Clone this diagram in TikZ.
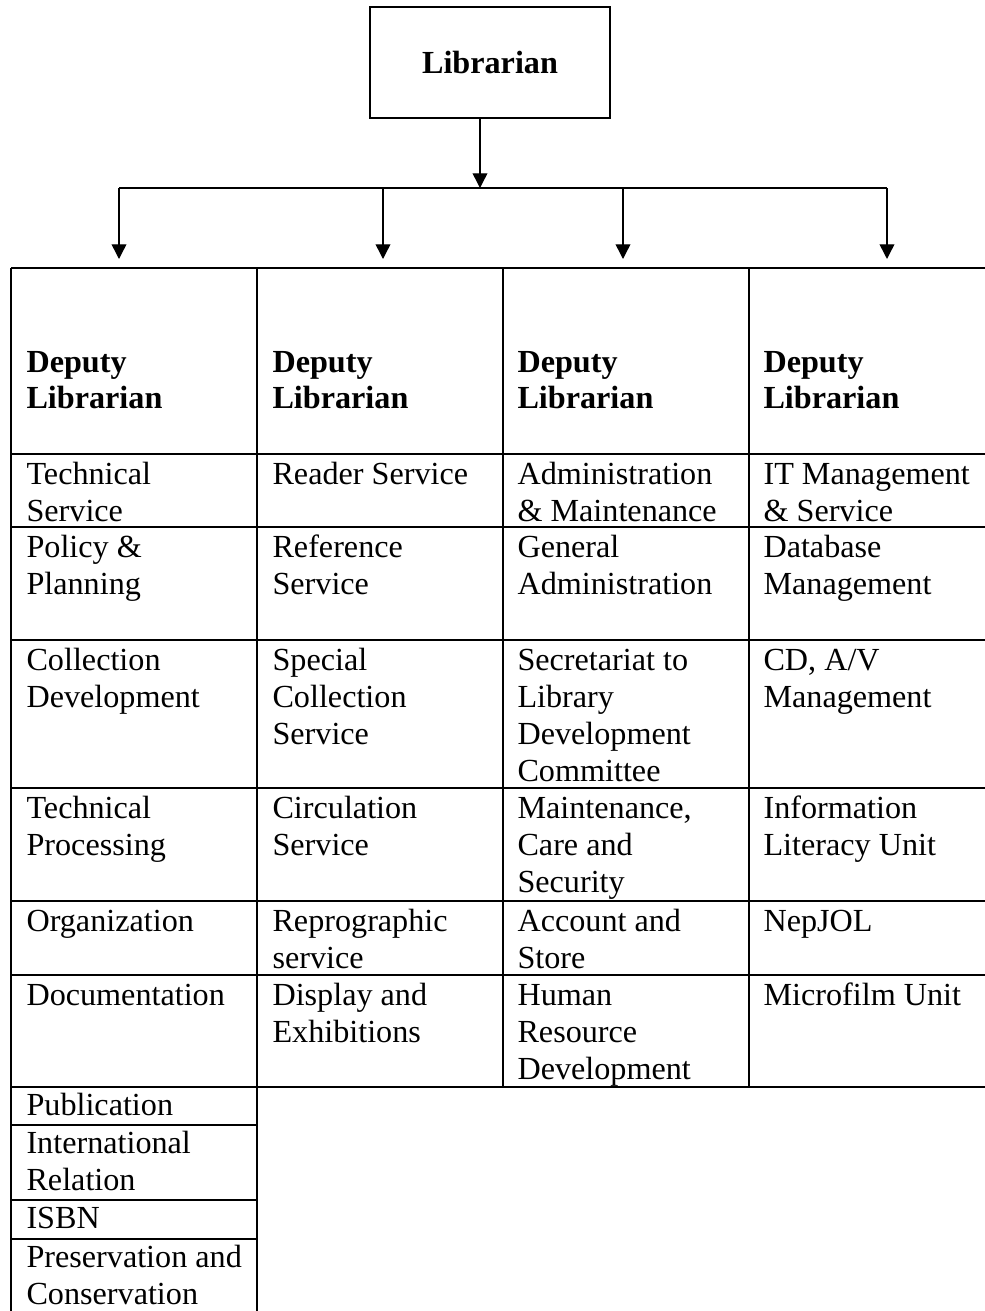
\documentclass[tikz,border=0pt]{standalone}
\usepackage{fontspec}
\setmainfont{Liberation Serif}
\usepackage{tikz}
\usetikzlibrary{positioning,arrows.meta,calc}

\begin{document}
\begin{tikzpicture}[x=0.373pt, y=-0.373pt,
    cell/.style={anchor=base west, inner sep=0pt, align=left,
                 font=\fontsize{12}{13.8}\selectfont},
    head/.style={cell, font=\fontsize{12}{13.1}\selectfont\bfseries},
    grid/.style={line width=0.75pt},
    link/.style={line width=0.55pt, -{Triangle[width=5.5pt,length=5.5pt]}}]
  \useasboundingbox (0,0) rectangle (985,1311);

  % top box
  \node[draw, line width=0.85pt, minimum width=89.5pt, minimum height=41.4pt,
        font=\fontsize{12}{13.8}\selectfont\bfseries] (lib) at (490,62.5) {Librarian};

  % arrows down to the four deputies
  \coordinate (bus) at (480,188);
  \coordinate (d1) at (119,259);
  \coordinate (d2) at (383,259);
  \coordinate (d3) at (623,259);
  \coordinate (d4) at (887,259);
  \draw[link] (lib.south -| bus) -- (bus);
  \draw[line width=0.55pt] (bus -| d1) -- (bus -| d4);
  \draw[link] (bus -| d1) -- (d1);
  \draw[link] (bus -| d2) -- (d2);
  \draw[link] (bus -| d3) -- (d3);
  \draw[link] (bus -| d4) -- (d4);

  % table rules
  \foreach \y in {268,454,527,640,788,901,975,1087}
    \draw[grid] (11,\y) -- (985,\y);
  \foreach \y in {1125,1200,1239}
    \draw[grid] (11,\y) -- (257,\y);
  \draw[grid] (11,268) -- (11,1311);
  \draw[grid] (257,268) -- (257,1311);
  \draw[grid] (503,268) -- (503,1087);
  \draw[grid] (749,268) -- (749,1087);

  % cells sit on the baseline of their last line (37 = one line)
  \node[head] (h1) at (26,408) {Deputy\\Librarian};
  \node[head] (h2) at (272,408) {Deputy\\Librarian};
  \node[head] (h3) at (517,408) {Deputy\\Librarian};
  \node[head] (h4) at (763,408) {Deputy\\Librarian};

  % first column
  \node[cell] (r1c1) at (26,521) {Technical\\Service};
  \node[cell] (r2c1) at (26,594) {Policy \&\\Planning};
  \node[cell] (r3c1) at (26,707) {Collection\\Development};
  \node[cell] (r4c1) at (26,855) {Technical\\Processing};
  \node[cell] (r5c1) at (26,931) {Organization};
  \node[cell] (r6c1) at (26,1005) {Documentation};
  \node[cell] (r7c1) at (26,1115) {Publication};
  \node[cell] (r8c1) at (26,1190) {International\\Relation};
  \node[cell] (r9c1) at (26,1228) {ISBN};
  \node[cell] (r10c1) at (26,1304) {Preservation and\\Conservation};

  % second column
  \node[cell] (r1c2) at (272,484) {Reader Service};
  \node[cell] (r2c2) at (272,594) {Reference\\Service};
  \node[cell] (r3c2) at (272,744) {Special\\Collection\\Service};
  \node[cell] (r4c2) at (272,855) {Circulation\\Service};
  \node[cell] (r5c2) at (272,968) {Reprographic\\service};
  \node[cell] (r6c2) at (272,1042) {Display and\\Exhibitions};

  % third column
  \node[cell] (r1c3) at (517,521) {Administration\\\& Maintenance};
  \node[cell] (r2c3) at (517,594) {General\\Administration};
  \node[cell] (r3c3) at (517,781) {Secretariat to\\Library\\Development\\Committee};
  \node[cell] (r4c3) at (517,892) {Maintenance,\\Care and\\Security};
  \node[cell] (r5c3) at (517,968) {Account and\\Store};
  \node[cell] (r6c3) at (517,1079) {Human\\Resource\\Development};

  % fourth column
  \node[cell] (r1c4) at (763,521) {IT Management\\\& Service};
  \node[cell] (r2c4) at (763,594) {Database\\Management};
  \node[cell] (r3c4) at (763,707) {CD, A/V\\Management};
  \node[cell] (r4c4) at (763,855) {Information\\Literacy Unit};
  \node[cell] (r5c4) at (763,931) {NepJOL};
  \node[cell] (r6c4) at (763,1005) {Microfilm Unit};
\end{tikzpicture}
\end{document}
